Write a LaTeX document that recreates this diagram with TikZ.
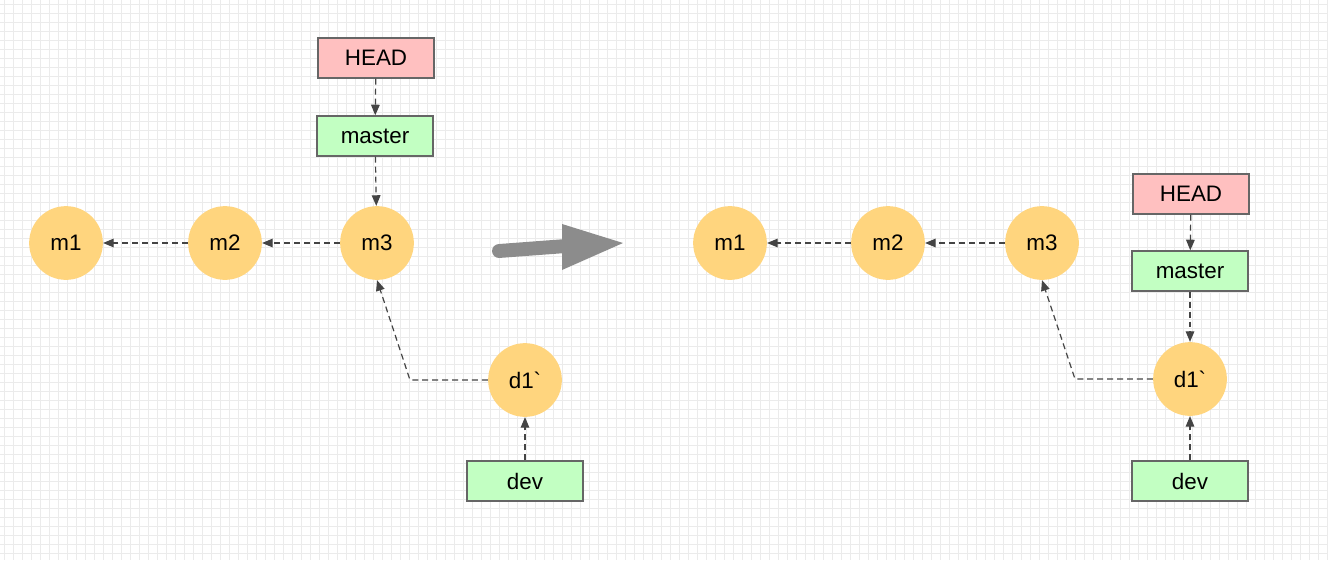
\documentclass[tikz,border=0pt]{standalone}
\usepackage{fontspec}
\newfontfamily\labelfont{Liberation Sans}
\usetikzlibrary{arrows.meta}
\definecolor{commitfill}{HTML}{FFD57E}
\definecolor{headfill}{HTML}{FFC0C0}
\definecolor{branchfill}{HTML}{C2FFC2}
\definecolor{edgegray}{HTML}{666666}
\definecolor{linkgray}{HTML}{444444}
\definecolor{biggray}{HTML}{8C8C8C}

\begin{document}
\begin{tikzpicture}[x=0.0265cm,y=-0.0265cm,
		every node/.style={font=\labelfont\fontsize{16.9}{20}\selectfont},
		commit/.style={circle, fill=commitfill, minimum size=55.6pt, inner sep=0pt},
		headbox/.style={draw=edgegray, line width=1.1pt, fill=headfill, minimum width=87.2pt, minimum height=30.1pt, inner sep=0pt},
		branchbox/.style={headbox, fill=branchfill},
		link/.style={draw=linkgray, line width=0.9pt, dash pattern=on 4.5pt off 3pt, -{Triangle[length=8pt,width=6.5pt]}}]
		\useasboundingbox (0,0) rectangle (1328,560);
		\fill[white] (0,0) rectangle (1328,560);
		\foreach \x in {4,13,...,1328} \draw[line width=0.6pt, gray!16] (\x,0) -- (\x,560);
		\foreach \y in {4,13,...,560} \draw[line width=0.6pt, gray!16] (0,\y) -- (1328,\y);

		% before
		\node[commit] (m1) at (66,243) {m1};
		\node[commit] (m2) at (225,243) {m2};
		\node[commit] (m3) at (377,243) {m3};
		\node[commit] (d1) at (525,380) {d1\symbol{96}};
		\node[headbox] (head) at (376,58) {HEAD};
		\node[branchbox] (master) at (375,136) {master};
		\node[branchbox] (dev) at (525,481) {dev};
		\coordinate (bend) at (410,380);
		\draw[link] (m3) -- (m2);
		\draw[link] (m2) -- (m1);
		\draw[link] (head) -- (master);
		\draw[link] (master) -- (m3);
		\draw[link] (d1.west) -- (bend) -- (m3.south);
		\draw[link] (dev) -- (d1);

		% big arrow
		\draw[biggray, line width=10.5pt, line cap=round] (499,251) -- (566,246);
		\fill[biggray] (562,224) -- (623,243) -- (562,270) -- cycle;

		% after
		\node[commit] (m1b) at (730,243) {m1};
		\node[commit] (m2b) at (888,243) {m2};
		\node[commit] (m3b) at (1042,243) {m3};
		\node[commit] (d1b) at (1190,379) {d1\symbol{96}};
		\node[headbox] (headb) at (1191,194) {HEAD};
		\node[branchbox] (masterb) at (1190,271) {master};
		\node[branchbox] (devb) at (1190,481) {dev};
		\coordinate (bendb) at (1075,379);
		\draw[link] (m3b) -- (m2b);
		\draw[link] (m2b) -- (m1b);
		\draw[link] (headb) -- (masterb);
		\draw[link] (masterb) -- (d1b);
		\draw[link] (d1b.west) -- (bendb) -- (m3b.south);
		\draw[link] (devb) -- (d1b);
	\end{tikzpicture}
\end{document}
